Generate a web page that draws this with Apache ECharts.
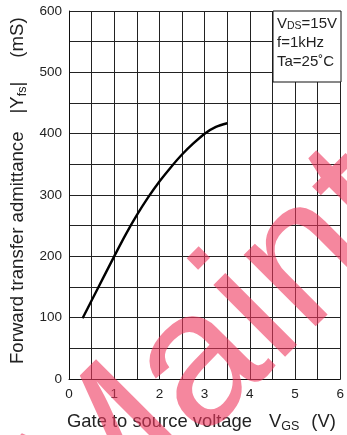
<!DOCTYPE html>
<html>
<head>
<meta charset="utf-8">
<script src="https://cdn.jsdelivr.net/npm/echarts@6/dist/echarts.min.js"></script>
<style>
html,body{margin:0;padding:0;background:#fff;}
#c{width:347px;height:435px;}
</style>
</head>
<body>
<div id="c"></div>
<script>
// Data
const vgs = [0.3, 0.5, 0.75, 1.0, 1.25, 1.5, 1.75, 2.0, 2.25, 2.5, 2.75, 3.0, 3.25, 3.5];
const yfs = [99, 128, 164, 200, 235, 267, 296, 322, 345, 366, 384, 400, 411, 417];
const xTickLabels = ['0', '1', '2', '3', '4', '5', '6'];
const yTickLabels = ['0', '100', '200', '300', '400', '500', '600'];

const FONT = "'Liberation Sans', Arial, Helvetica, sans-serif";
const chart = echarts.init(document.getElementById('c'), null, {renderer: 'canvas'});

const option = {
  animation: false,
  backgroundColor: '#fff',
  grid: {left: 69, right: 6, top: 11, bottom: 56, containLabel: false},
  xAxis: {
    type: 'value', min: 0, max: 6, interval: 0.5,
    axisLine: {show: true, lineStyle: {color: '#111', width: 1}},
    axisTick: {show: false},
    splitLine: {show: true, lineStyle: {color: '#222', width: 1}},
    axisLabel: {
      color: '#222', fontSize: 13.5, fontFamily: FONT, margin: 8,
      formatter: v => (Math.abs(v - Math.round(v)) < 1e-6 ? xTickLabels[Math.round(v)] : '')
    }
  },
  yAxis: {
    type: 'value', min: 0, max: 600, interval: 50,
    axisLine: {show: true, lineStyle: {color: '#111', width: 1}},
    axisTick: {show: false},
    splitLine: {show: true, lineStyle: {color: '#222', width: 1}},
    axisLabel: {
      color: '#222', fontSize: 13.5, fontFamily: FONT, margin: 7,
      formatter: v => (v % 100 === 0 ? yTickLabels[v / 100] : '')
    }
  },
  series: [{
    type: 'line',
    data: vgs.map((x, i) => [x, yfs[i]]),
    smooth: 0.3,
    symbol: 'none',
    lineStyle: {color: '#000', width: 2.4},
    z: 5
  }],
  graphic: [
    {
      type: 'rect', z: 20,
      shape: {x: 273, y: 11, width: 68, height: 71},
      style: {fill: '#fff', stroke: '#111', lineWidth: 1}
    },
    {
      type: 'text', z: 21, x: 277, y: 14,
      style: {
        text: '{n|V}{s|DS}{n|=15V}\n{n|f=1kHz}\n{n|Ta=25˚C}',
        fill: '#222', lineHeight: 19,
        rich: {
          n: {fontSize: 15, fontFamily: FONT, fill: '#222', lineHeight: 19},
          s: {fontSize: 10.5, fontFamily: FONT, fill: '#222', lineHeight: 19, padding: [6, 0, 0, 0]}
        }
      }
    },
    {
      type: 'text', z: 21, x: 67, y: 422,
      style: {
        text: '{n|Gate to source voltage}{v|V}{s|GS}{p|(V)}',
        align: 'left', verticalAlign: 'middle',
        rich: {
          n: {fontSize: 18.4, fontFamily: FONT, fill: '#222'},
          v: {fontSize: 18.4, fontFamily: FONT, fill: '#222', padding: [0, 0, 0, 17]},
          s: {fontSize: 12.5, fontFamily: FONT, fill: '#222', padding: [9, 0, 0, 0]},
          p: {fontSize: 18.4, fontFamily: FONT, fill: '#222', padding: [0, 0, 0, 12]}
        }
      }
    },
    {
      type: 'text', z: 21, x: 18, y: 364, rotation: Math.PI / 2,
      style: {
        text: '{n|Forward transfer admittance}{v||Y}{s|fs}{n||}{p|(mS)}',
        align: 'left', verticalAlign: 'middle',
        rich: {
          n: {fontSize: 18.6, fontFamily: FONT, fill: '#222'},
          v: {fontSize: 18.6, fontFamily: FONT, fill: '#222', padding: [0, 0, 0, 18]},
          s: {fontSize: 12.5, fontFamily: FONT, fill: '#222', padding: [9, 0, 0, 0]},
          p: {fontSize: 18.6, fontFamily: FONT, fill: '#222', padding: [0, 0, 0, 24]}
        }
      }
    },
    {
      type: 'text', z: 30, x: 50, y: 517, rotation: Math.PI / 4,
      silent: true,
      style: {
        text: 'Maintenance',
        font: '192px ' + FONT,
        fill: 'rgba(238,55,93,0.6)',
        align: 'left', verticalAlign: 'middle'
      }
    }
  ]
};
chart.setOption(option);
</script>
</body>
</html>
